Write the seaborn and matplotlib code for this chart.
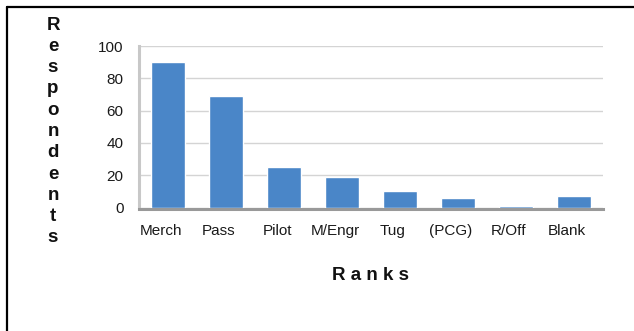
import matplotlib
matplotlib.use("Agg")
import matplotlib.pyplot as plt
import matplotlib.transforms as mtransforms
from matplotlib.lines import Line2D
import pandas as pd
import seaborn as sns

ranks = ["Merch", "Pass", "Pilot", "M/Engr", "Tug", "(PCG)", "R/Off", "Blank"]
respondents = [90, 69, 25, 19, 10, 6, 1, 7]
y_ticks = [0, 20, 40, 60, 80, 100]

df = pd.DataFrame({"rank": ranks, "respondents": respondents})

sns.set_theme(style="white")
plt.rcParams["font.family"] = ["Liberation Sans", "DejaVu Sans"]

W, H = 634, 331
y_top, y_zero = 46.0, 207.5
fig = plt.figure(figsize=(W / 100, H / 100), dpi=100)
ax = fig.add_axes([139 / W, 1 - y_zero / H, (603 - 139) / W, (y_zero - y_top) / H])

sns.barplot(data=df, x="rank", y="respondents", color="#4A86C8",
            saturation=1, width=0.586, ax=ax, zorder=3)

ax.set_xlim(-0.5, len(ranks) - 0.5)
ax.set_ylim(0, 100)
ax.set_yticks(y_ticks)
ax.yaxis.grid(True, color="#d4d4d4", linewidth=1)
ax.set_axisbelow(True)

for side in ("top", "right"):
    ax.spines[side].set_visible(False)
ax.spines["left"].set_color("#c8c8c8")
ax.spines["left"].set_linewidth(2.2)
ax.spines["bottom"].set_color("#999999")
ax.spines["bottom"].set_linewidth(2.2)
ax.spines["bottom"].set_position(("outward", 1.0))
ax.spines["bottom"].set_zorder(2.5)

ax.tick_params(axis="both", length=0, labelsize=11, labelcolor="#1a1a1a")
ax.tick_params(axis="y", pad=11)
ax.tick_params(axis="x", pad=11)

shift = mtransforms.ScaledTranslation(-7 / 100, 0, fig.dpi_scale_trans)
for lbl in ax.get_xticklabels():
    lbl.set_transform(lbl.get_transform() + shift)

ax.set_xlabel("R a n k s", fontsize=13.5, fontweight="bold", color="#111111")
ax.xaxis.set_label_coords(0.5, (y_zero - 276) / (y_zero - y_top))
ax.xaxis.label.set_va("center")

ax.set_ylabel("\n".join("Respondents"), rotation=0, fontsize=13.5,
              fontweight="bold", color="#111111", linespacing=1.33,
              ha="center", va="center")
ax.yaxis.set_label_coords((53 - 139) / (603 - 139), (y_zero - 131.5) / (y_zero - y_top))

# frame lines along the top and left edges
fig.add_artist(Line2D([7.3 / W, 7.3 / W], [0, 1 - 7.3 / H], color="black", linewidth=1.6))
fig.add_artist(Line2D([7.3 / W, 1], [1 - 7.3 / H, 1 - 7.3 / H], color="black", linewidth=1.6))

fig.savefig("out.png", dpi=100)
